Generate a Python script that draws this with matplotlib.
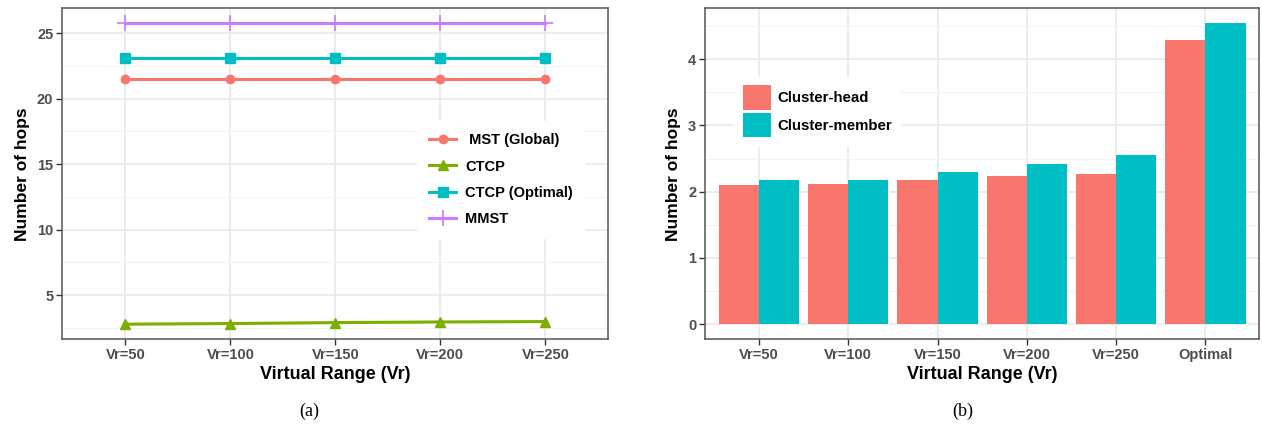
import numpy as np
from matplotlib import pyplot as plt

plt.rcParams['font.family'] = ['Liberation Sans', 'DejaVu Sans']
plt.rcParams['font.weight'] = 'bold'

# panel (a): hops vs virtual range
vr_labels = ['Vr=50', 'Vr=100', 'Vr=150', 'Vr=200', 'Vr=250']
mst_global = [21.5, 21.5, 21.5, 21.5, 21.5]
ctcp = [2.78, 2.83, 2.90, 2.95, 2.98]
ctcp_optimal = [23.12, 23.12, 23.12, 23.12, 23.12]
mmst = [25.74, 25.74, 25.74, 25.74, 25.74]

# panel (b): cluster head / member hops
bar_labels = ['Vr=50', 'Vr=100', 'Vr=150', 'Vr=200', 'Vr=250', 'Optimal']
cluster_head = [2.10, 2.11, 2.18, 2.23, 2.27, 4.29]
cluster_member = [2.17, 2.18, 2.29, 2.415, 2.55, 4.54]

RED = '#F8766D'
GREEN = '#7CAE00'
CYAN = '#00BFC4'
PURPLE = '#C77CFF'
TICK_GREY = '#4D4D4D'


def style_axes(ax):
    ax.set_facecolor('white')
    for s in ax.spines.values():
        s.set_color('#555555')
        s.set_linewidth(1.1)
    ax.grid(True, which='major', color='#EBEBEB', linewidth=1.3)
    ax.grid(True, which='minor', axis='y', color='#F2F2F2', linewidth=0.8)
    ax.set_axisbelow(True)
    ax.tick_params(axis='both', which='major', colors='#333333', length=4,
                   width=1, labelcolor=TICK_GREY, labelsize=10.5, pad=2.5)
    ax.tick_params(axis='both', which='minor', length=0)
    for lab in ax.get_xticklabels() + ax.get_yticklabels():
        lab.set_fontweight('bold')
    ax.set_xlabel('Virtual Range (Vr)', fontsize=13, fontweight='bold', labelpad=3)
    ax.set_ylabel('Number of hops', fontsize=12.5, fontweight='bold', labelpad=5)


fig = plt.figure(figsize=(12.62, 4.30), dpi=100)

# ---- (a)
ax1 = fig.add_axes([0.0494, 0.211, 0.4327, 0.7698])
x = np.arange(len(vr_labels))
ax1.plot(x, mst_global, color=RED, lw=2.2, marker='o', ms=6, label=' MST (Global)')
ax1.plot(x, ctcp, color=GREEN, lw=2.2, marker='^', ms=7, label='CTCP')
ax1.plot(x, ctcp_optimal, color=CYAN, lw=2.2, marker='s', ms=6.5, label='CTCP (Optimal)')
ax1.plot(x, mmst, color=PURPLE, lw=2.2, marker='+', ms=11, mew=1.2, label='MMST')
ax1.set_xticks(x)
ax1.set_xticklabels(vr_labels)
ax1.set_xlim(-0.6, len(vr_labels) - 0.4)
ax1.set_ylim(1.63, 26.89)
ax1.set_yticks([5, 10, 15, 20, 25])
ax1.set_yticks([2.5, 7.5, 12.5, 17.5, 22.5], minor=True)
style_axes(ax1)
leg1 = ax1.legend(loc='upper left', bbox_to_anchor=(0.637, 0.68), frameon=True,
                  facecolor='white', edgecolor='white', framealpha=1, fancybox=False,
                  fontsize=10.5, handlelength=1.85, labelspacing=0.85, borderpad=0.8,
                  handletextpad=0.6)
for t in leg1.get_texts():
    t.set_fontweight('bold')

# ---- (b)
ax2 = fig.add_axes([0.5589, 0.211, 0.4387, 0.7698])
xb = np.arange(len(bar_labels))
w = 0.45
ax2.bar(xb - w / 2, cluster_head, width=w, color=RED, label='Cluster-head')
ax2.bar(xb + w / 2, cluster_member, width=w, color=CYAN, label='Cluster-member')
ax2.set_xticks(xb)
ax2.set_xticklabels(bar_labels)
ax2.set_xlim(-0.6, len(bar_labels) - 0.4)
ax2.set_ylim(-0.227, 4.767)
ax2.set_yticks([0, 1, 2, 3, 4])
ax2.set_yticks([0.5, 1.5, 2.5, 3.5, 4.5], minor=True)
style_axes(ax2)
leg2 = ax2.legend(loc='upper left', bbox_to_anchor=(0.04, 0.815), frameon=True,
                  facecolor='white', edgecolor='white', framealpha=1, fancybox=False,
                  fontsize=10.8, handlelength=1.85, handleheight=2.14, labelspacing=0.2,
                  borderpad=0.55, handletextpad=0.4)
for t in leg2.get_texts():
    t.set_fontweight('bold')

fig.text(309 / 1262, 1 - 411 / 430, '(a)', family='Liberation Serif',
         fontweight='normal', fontsize=13, ha='center', va='center')
fig.text(963 / 1262, 1 - 411 / 430, '(b)', family='Liberation Serif',
         fontweight='normal', fontsize=13, ha='center', va='center')

fig.savefig('out.png', dpi=100)
